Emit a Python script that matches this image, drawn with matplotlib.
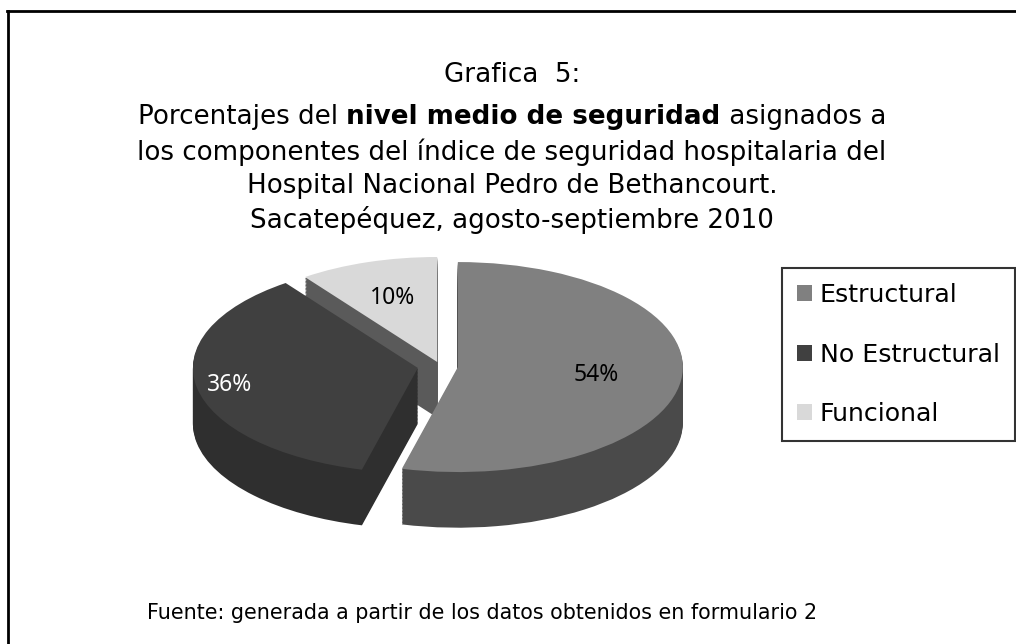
import numpy as np
import matplotlib
matplotlib.use('Agg')
import matplotlib.pyplot as plt
from matplotlib.patches import Patch
from matplotlib.lines import Line2D

# data
labels = ['Estructural', 'No Estructural', 'Funcional']
values = [54, 36, 10]
top_colors = ['#808080', '#404040', '#d9d9d9']
side_colors = ['#4a4a4a', '#2f2f2f', '#5a5a5a']
pct_colors = ['black', 'white', 'black']
explode = [0.08, 0.10, 0.04]
pct_dist = [0.62, 0.85, 0.64]

W, H = 1016, 644
fig = plt.figure(figsize=(W / 100, H / 100), dpi=100)

# pie geometry in pixels (center, px per unit in x / y)
cx, cy = 440, 366
sx, sy = 225, 105
depth = 0.53
left, right, top, bottom = 150, 740, 230, 570

ax = fig.add_axes([left / W, (H - bottom) / H, (right - left) / W, (bottom - top) / H])

# side walls: stacked copies of the pie, shifted down
nlay = 40
for k in range(nlay, 0, -1):
    ax.pie(values, explode=explode, colors=side_colors, startangle=90,
           counterclock=False, center=(0, -depth * k / nlay),
           wedgeprops=dict(linewidth=0))

wedges, texts, autotexts = ax.pie(values, explode=explode, colors=top_colors,
                                  startangle=90, counterclock=False,
                                  autopct='%1.0f%%',
                                  wedgeprops=dict(linewidth=0))
for w, t, c, d in zip(wedges, autotexts, pct_colors, pct_dist):
    mid = np.deg2rad((w.theta1 + w.theta2) / 2)
    x0, y0 = w.center
    t.set_position((x0 + d * np.cos(mid), y0 + d * np.sin(mid)))
    t.set_color(c)
    t.set_fontsize(16.5)
    t.set_family('Noto Sans')

ax.set_aspect('auto')
ax.set_xlim((left - cx) / sx, (right - cx) / sx)
ax.set_ylim((cy - bottom) / sy, (cy - top) / sy)
ax.axis('off')

# legend
handles = [Patch(facecolor=c, edgecolor='none') for c in top_colors]
leg = fig.legend(handles, labels, loc='upper left',
                 bbox_to_anchor=(782 / W, 1 - 268 / H), borderaxespad=0,
                 fontsize=18.2, frameon=True, fancybox=False,
                 handlelength=0.6, handleheight=0.6, handletextpad=0.3,
                 labelspacing=1.4, borderpad=0.6)
leg.get_frame().set_edgecolor('black')
leg.get_frame().set_linewidth(1.5)

# title
fs = 18.8
xc = 512 / W
fig.text(xc, 1 - 75 / H, 'Grafica  5:', ha='center', va='center', fontsize=fs)
plain_lines = [
    (152, 'los componentes del índice de seguridad hospitalaria del'),
    (186, 'Hospital Nacional Pedro de Bethancourt.'),
    (220, 'Sacatepéquez, agosto-septiembre 2010'),
]
for y, s in plain_lines:
    fig.text(xc, 1 - y / H, s, ha='center', va='center', fontsize=fs)

# mixed bold line
parts = [('Porcentajes del ', 'normal'), ('nivel medio de seguridad', 'bold'),
         (' asignados a', 'normal')]
r = fig.canvas.get_renderer()
objs = [fig.text(0, 1 - 117 / H, s, ha='left', va='center', fontsize=fs,
                 fontweight=wt) for s, wt in parts]
widths = [o.get_window_extent(r).width for o in objs]
x0 = 512 - sum(widths) / 2
for o, wd in zip(objs, widths):
    o.set_x(x0 / W)
    x0 += wd

fig.text(147 / W, 1 - 613 / H,
         'Fuente: generada a partir de los datos obtenidos en formulario 2',
         ha='left', va='center', fontsize=14.9)

# page frame (top and left edges)
fig.add_artist(Line2D([7 / W, 1], [1 - 11 / H, 1 - 11 / H], color='black', lw=2))
fig.add_artist(Line2D([8 / W, 8 / W], [0, 1 - 11 / H], color='black', lw=2))

fig.savefig('out.png', dpi=100)
